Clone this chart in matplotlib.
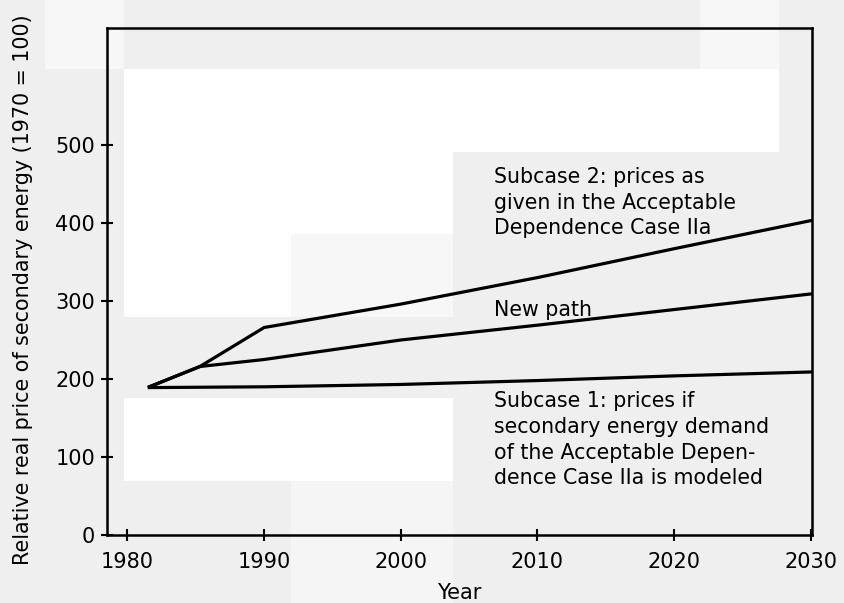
import matplotlib
matplotlib.use("Agg")
import matplotlib.pyplot as plt
from matplotlib.patches import Rectangle

# ---- data ----
subcase2_years = [1981.6, 1985.3, 1990, 2000, 2010, 2020, 2030]
subcase2_values = [190, 216, 266, 296, 330, 367, 403]

newpath_years = [1981.6, 1985.3, 1990, 2000, 2010, 2020, 2030]
newpath_values = [190, 216, 225, 250, 269, 289, 309]

subcase1_years = [1981.6, 1990, 2000, 2010, 2020, 2030]
subcase1_values = [189, 190, 193, 198, 204, 209]

x_ticks = [1980, 1990, 2000, 2010, 2020, 2030]
y_ticks = [0, 100, 200, 300, 400, 500]

label_sub2 = "Subcase 2: prices as\ngiven in the Acceptable\nDependence Case IIa"
label_new = "New path"
label_sub1 = ("Subcase 1: prices if\nsecondary energy demand\n"
              "of the Acceptable Depen-\ndence Case IIa is modeled")
x_label = "Year"
y_label = "Relative real price of secondary energy (1970 = 100)"

# ---- figure ----
W, H = 845, 603
fig = plt.figure(figsize=(W / 100, H / 100), dpi=100, facecolor="#efefef")

# faint scan background blocks (pixel boxes: x0, y0, x1, y1, colour)
bg_blocks = [
    (124, 69, 779, 152, "#ffffff"),
    (124, 152, 453, 234, "#ffffff"),
    (124, 234, 291, 317, "#ffffff"),
    (291, 234, 453, 317, "#f7f7f7"),
    (124, 398, 453, 481, "#ffffff"),
    (700, 0, 779, 69, "#f7f7f7"),
    (45, 0, 124, 69, "#f7f7f7"),
    (291, 481, 453, 603, "#f5f5f5"),
]
for x0, y0, x1, y1, c in bg_blocks:
    fig.add_artist(Rectangle((x0 / W, 1 - y1 / H), (x1 - x0) / W, (y1 - y0) / H,
                             transform=fig.transFigure, facecolor=c,
                             edgecolor="none", zorder=-10))

ax = fig.add_axes([107 / W, 1 - 535 / H, (812 - 107) / W, (535 - 28) / H])
ax.set_facecolor("none")

lw = 2.3
ax.plot(subcase2_years, subcase2_values, color="black", lw=lw, solid_joinstyle="miter")
ax.plot(newpath_years, newpath_values, color="black", lw=lw, solid_joinstyle="miter")
ax.plot(subcase1_years, subcase1_values, color="black", lw=lw, solid_joinstyle="miter")

ax.set_xlim(1978.5, 2030.1)
ax.set_ylim(0, 650)
ax.set_xticks(x_ticks)
ax.set_yticks(y_ticks)

fs_tick = 15
fs_text = 14.8
ax.tick_params(direction="inout", length=9, width=1.5, labelsize=fs_tick)
ax.tick_params(axis="x", pad=8)
ax.tick_params(axis="y", pad=4)
for sp in ax.spines.values():
    sp.set_linewidth(1.8)

ax.set_xlabel(x_label, fontsize=fs_tick, labelpad=8)
ax.set_ylabel(y_label, fontsize=14.9)
ax.yaxis.set_label_coords(-0.105, 0.483)

txt = dict(fontsize=fs_text, ha="left", va="center", linespacing=1.36)
ax.text(2006.8, 426, label_sub2, **txt)
ax.text(2006.8, 289, label_new, **txt)
ax.text(2006.8, 122, label_sub1, **txt)

fig.savefig("out.png", dpi=100, facecolor=fig.get_facecolor())
